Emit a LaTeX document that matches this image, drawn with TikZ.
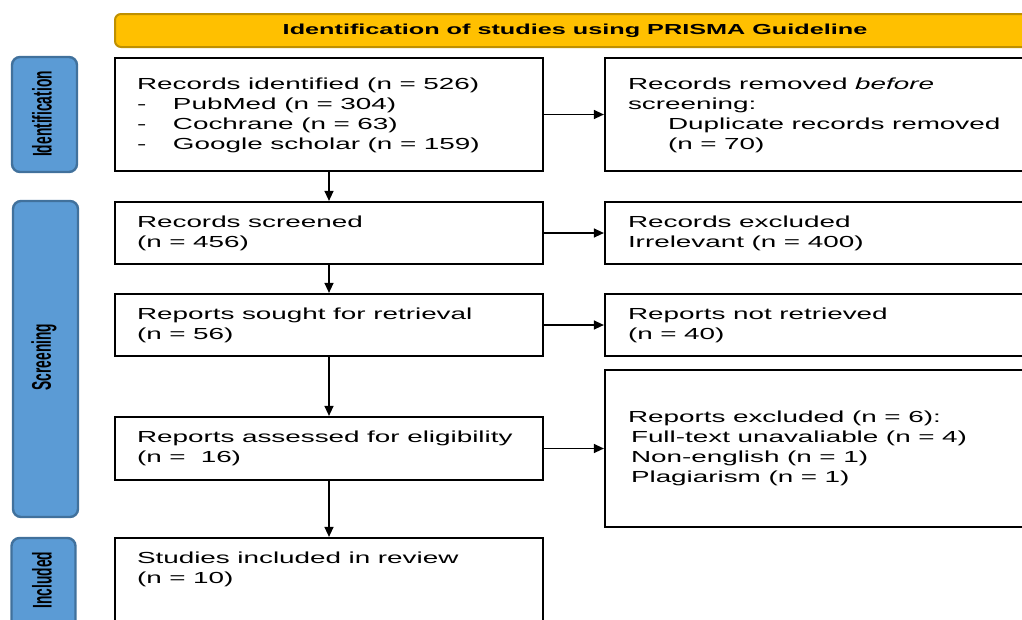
\documentclass[tikz,border=0pt]{standalone}
\usepackage{fontspec}
\setmainfont{Liberation Sans}[FakeStretch=1.74]
\newfontfamily\labfont{Liberation Sans}[FakeStretch=0.51]
\usetikzlibrary{arrows.meta}
\definecolor{hdrfill}{HTML}{FFC000}
\definecolor{hdrline}{HTML}{BF9000}
\definecolor{stagefill}{HTML}{5B9BD5}
\definecolor{stageline}{HTML}{41719C}
\newcommand{\wsp}{\spaceskip=7.6pt plus 3pt minus 0.5pt\xspaceskip=7.6pt plus 3pt minus 0.5pt\relax}
\begin{document}
\begin{tikzpicture}[x=1pt,y=-1pt,
  txt/.style={font=\fontsize{16}{20}\selectfont, execute at begin node=\wsp},
  lbox/.style={draw, line width=2.2pt, text width=384pt, inner xsep=22pt, inner ysep=0pt, align=left, txt},
  rbox/.style={draw, line width=2.2pt, text width=394pt, inner xsep=23pt, inner ysep=0pt, align=left, txt},
  stage/.style={draw=stageline, fill=stagefill, line width=2.4pt, rounded corners=8pt, inner sep=0pt},
  stagelabel/.style={rotate=90, font=\labfont\bfseries\fontsize{27}{27}\selectfont, inner sep=0pt},
  arr/.style={line width=1.3pt, -{Triangle[length=10pt,width=9pt]}}
]
\useasboundingbox (0,0) rectangle (1022,619);
\clip (0,0) rectangle (1022,619);

% header
\node[draw=hdrline, fill=hdrfill, line width=2pt, rounded corners=6pt,
      minimum width=920pt, minimum height=33pt, inner sep=0pt,
      font=\bfseries\fontsize{14.5}{16}\selectfont] (hdr) at (575,30.5)
      {Identification of studies using PRISMA Guideline};

% stage bars
\node[stage, minimum width=65pt, minimum height=115pt] (sid) at (44.5,114.5) {};
\node[stagelabel] (lid) at (42,114) {Identification};
\node[stage, minimum width=65pt, minimum height=316pt] (ssc) at (45.5,359) {};
\node[stagelabel] (lsc) at (44,357) {Screening};
\node[stage, minimum width=64pt, minimum height=124pt] (sin) at (43.5,600) {};
\node[stagelabel] (lin) at (42,580) {Included};

% left column
\node[lbox, minimum height=113pt] (b1) at (329,114.5)
  {\rule{0pt}{14pt}Records identified (n = 526)\\
   \makebox[36pt][l]{-}PubMed (n = 304)\\
   \makebox[36pt][l]{-}Cochrane (n = 63)\\
   \makebox[36pt][l]{-}Google scholar (n = 159)};
\node[lbox, minimum height=62pt] (b2) at (329,233)
  {Records screened\\(n = 456)};
\node[lbox, minimum height=62pt] (b3) at (329,325)
  {Reports sought for retrieval\\(n = 56)};
\node[lbox, minimum height=63pt] (b4) at (329,448.5)
  {Reports assessed for eligibility\\(n = \ 16)};
\node[lbox, minimum height=120pt] (b5) at (329,598)
  {Studies included in review\\(n = 10)\rule[-60pt]{0pt}{0pt}};

% right column
\node[rbox, minimum height=113pt] (r1) at (825,114.5)
  {\rule{0pt}{14pt}Records removed \textit{before}\\
   screening:\\
   \hspace*{40pt}Duplicate records removed\\
   \hspace*{40pt}(n = 70)};
\node[rbox, minimum height=62pt] (r2) at (825,233)
  {Records excluded\\Irrelevant (n = 400)};
\node[rbox, minimum height=62pt] (r3) at (825,325)
  {Reports not retrieved\\(n = 40)};
\node[rbox, minimum height=157pt] (r4) at (825,448.5)
  {Reports excluded (n = 6):\\
   \hspace*{3pt}Full-text unavaliable (n = 4)\\
   \hspace*{3pt}Non-english (n = 1)\\
   \hspace*{3pt}Plagiarism (n = 1)};

% connectors
\draw[arr] (b1.south) -- (b2.north);
\draw[arr] (b2.south) -- (b3.north);
\draw[arr] (b3.south) -- (b4.north);
\draw[arr] (b4.south) -- (b5.north);
\draw[arr] (b1.east) -- (r1.west);
\draw[arr] (b2.east) -- (r2.west);
\draw[arr] (b3.east) -- (r3.west);
\draw[arr] (b4.east) -- (r4.west);
\end{tikzpicture}
\end{document}
